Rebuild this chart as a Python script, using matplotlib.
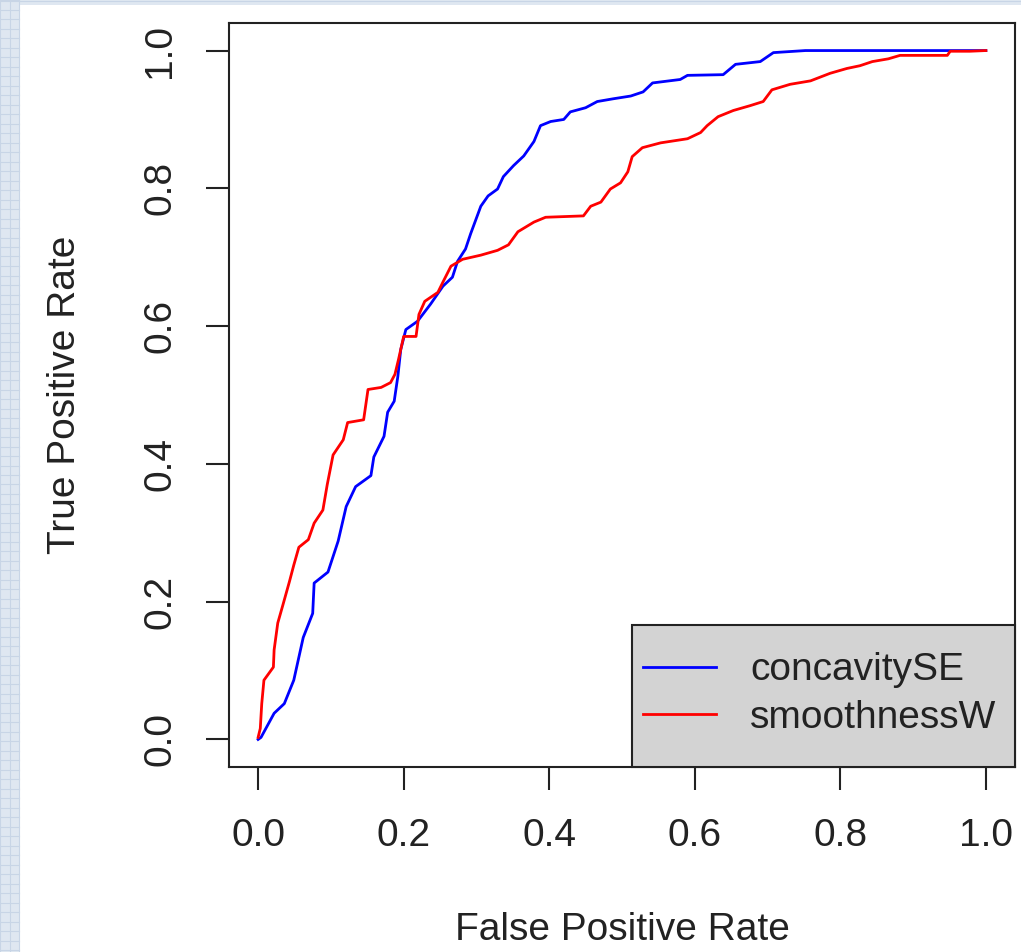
import matplotlib.pyplot as plt
from matplotlib.patches import Rectangle
from matplotlib.lines import Line2D
import numpy as np

# ROC curve points
fpr_concavity = [0.0, 0.004, 0.022, 0.036, 0.049, 0.062, 0.075, 0.077, 0.096, 0.110,
                 0.121, 0.134, 0.155, 0.159, 0.173, 0.178, 0.187, 0.192, 0.196, 0.203,
                 0.219, 0.237, 0.254, 0.267, 0.274, 0.285, 0.292, 0.306, 0.316, 0.329,
                 0.337, 0.351, 0.365, 0.379, 0.388, 0.402, 0.420, 0.429, 0.450, 0.466,
                 0.488, 0.512, 0.529, 0.542, 0.580, 0.590, 0.639, 0.656, 0.690, 0.708,
                 0.752, 1.0]
tpr_concavity = [0.0, 0.003, 0.038, 0.052, 0.086, 0.148, 0.183, 0.227, 0.243, 0.288,
                 0.338, 0.367, 0.383, 0.410, 0.440, 0.475, 0.491, 0.527, 0.566, 0.595,
                 0.607, 0.632, 0.658, 0.671, 0.694, 0.712, 0.734, 0.774, 0.789, 0.799,
                 0.817, 0.833, 0.847, 0.868, 0.891, 0.897, 0.900, 0.911, 0.917, 0.926,
                 0.930, 0.934, 0.940, 0.953, 0.958, 0.964, 0.965, 0.980, 0.984, 0.997,
                 1.0, 1.0]

fpr_smooth = [0.0, 0.003, 0.005, 0.008, 0.021, 0.022, 0.027, 0.034, 0.043, 0.049,
              0.056, 0.069, 0.077, 0.089, 0.095, 0.103, 0.117, 0.123, 0.145, 0.151,
              0.169, 0.182, 0.188, 0.193, 0.200, 0.217, 0.221, 0.229, 0.247, 0.254,
              0.265, 0.281, 0.306, 0.329, 0.344, 0.357, 0.379, 0.395, 0.447, 0.457,
              0.471, 0.484, 0.498, 0.508, 0.514, 0.528, 0.553, 0.590, 0.608, 0.617,
              0.632, 0.653, 0.676, 0.694, 0.706, 0.731, 0.759, 0.786, 0.809, 0.827,
              0.844, 0.866, 0.882, 0.947, 0.951, 0.978, 1.0]
tpr_smooth = [0.003, 0.016, 0.052, 0.086, 0.105, 0.130, 0.169, 0.195, 0.229, 0.253,
              0.279, 0.290, 0.314, 0.333, 0.370, 0.413, 0.435, 0.460, 0.464, 0.508,
              0.511, 0.518, 0.530, 0.552, 0.585, 0.585, 0.617, 0.636, 0.649, 0.664,
              0.687, 0.697, 0.703, 0.710, 0.718, 0.737, 0.751, 0.758, 0.760, 0.774,
              0.780, 0.799, 0.808, 0.824, 0.846, 0.859, 0.866, 0.872, 0.881, 0.891,
              0.904, 0.913, 0.920, 0.926, 0.943, 0.951, 0.956, 0.967, 0.974, 0.978,
              0.984, 0.988, 0.993, 0.993, 0.999, 0.999, 1.0]

series_labels = ['concavitySE', 'smoothnessW']
tick_vals = [0.0, 0.2, 0.4, 0.6, 0.8, 1.0]

plt.rcParams['font.family'] = ['Liberation Sans', 'DejaVu Sans']

W, H = 1021, 952
fig = plt.figure(figsize=(W / 100, H / 100), dpi=100)
fig.patch.set_facecolor('#dfe7f1')

# light blue grid strip (screenshot background) on left and top
for gx in np.arange(0, 20, 9.5):
    fig.add_artist(Line2D([gx / W, gx / W], [0, 1], color='#c8d5e6', lw=0.8,
                          transform=fig.transFigure))
for gy in np.arange(0, H, 9.5):
    fig.add_artist(Line2D([0, 19 / W], [1 - gy / H, 1 - gy / H], color='#c8d5e6', lw=0.8,
                          transform=fig.transFigure))
fig.add_artist(Line2D([0, 1], [1 - 1 / H, 1 - 1 / H], color='#c8d5e6', lw=0.8,
                      transform=fig.transFigure))
# white plot panel
fig.add_artist(Rectangle((19 / W, 0), 1 - 19 / W, 1 - 5 / H, facecolor='white',
                         edgecolor='none', transform=fig.transFigure, zorder=0))

ax = fig.add_axes([229 / W, 1 - 767 / H, (1015 - 229) / W, (767 - 23) / H])
ax.set_facecolor('white')

ax.plot(fpr_concavity, tpr_concavity, color='#0000ff', lw=2.0, label=series_labels[0])
ax.plot(fpr_smooth, tpr_smooth, color='#ff0000', lw=2.0, label=series_labels[1])

ax.set_xlim(-0.04, 1.04)
ax.set_ylim(-0.04, 1.04)
ax.set_xticks(tick_vals)
ax.set_yticks(tick_vals)
ax.set_xticklabels(['%.1f' % v for v in tick_vals])
ax.set_yticklabels(['%.1f' % v for v in tick_vals], rotation=90, va='center')

ax.tick_params(axis='both', direction='out', length=16.5, width=1.5, color='#222222',
               labelsize=28, labelcolor='#222222')
ax.tick_params(axis='x', pad=20)
ax.tick_params(axis='y', pad=20)

for s in ax.spines.values():
    s.set_linewidth(1.5)
    s.set_color('#222222')

ax.set_xlabel('False Positive Rate', fontsize=28, color='#222222', va='center')
ax.set_ylabel('True Positive Rate', fontsize=28, color='#222222', va='center')
ax.xaxis.set_label_coords(0.5, (767 - 930) / 744)
ax.yaxis.set_label_coords((65 - 229) / 786, 0.5)

# R style legend box in the bottom right corner
box_x0 = (632 - 229) / 786
box_top = (767 - 625) / 744
ax.add_patch(Rectangle((box_x0, 0), 1 - box_x0, box_top, transform=ax.transAxes,
                       facecolor='#d3d3d3', edgecolor='#222222', lw=1.5, zorder=4,
                       clip_on=False))
leg = ax.legend(loc='center left', bbox_to_anchor=((643 - 229) / 786, (767 - 694) / 744),
                borderaxespad=0, borderpad=0, fontsize=28, frameon=False,
                handlelength=1.88, handletextpad=0.87, labelspacing=0.3)
leg.set_zorder(5)
for t in leg.get_texts():
    t.set_color('#222222')

fig.savefig('out.png', dpi=100, facecolor=fig.get_facecolor())
